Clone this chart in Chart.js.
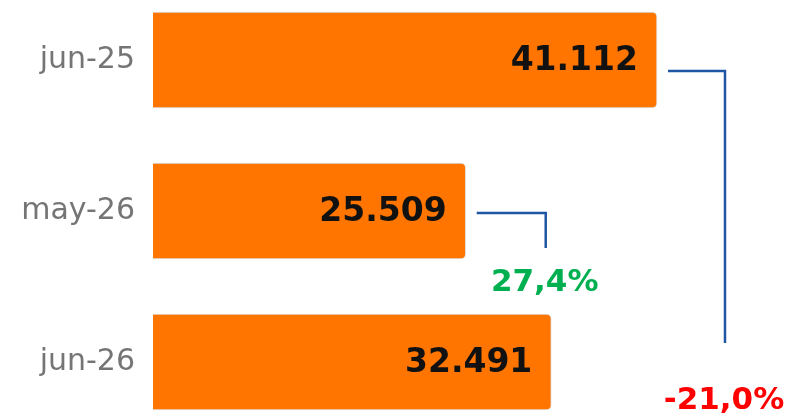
<!DOCTYPE html>
<html>
<head>
<meta charset="utf-8">
<script src="https://cdn.jsdelivr.net/npm/chart.js@4.4.1/dist/chart.umd.min.js"></script>
<style>
  html, body { margin: 0; padding: 0; background: #ffffff; }
  #wrap { width: 792px; height: 416px; }
</style>
</head>
<body>
<div id="wrap"><canvas id="barChart" width="792" height="416"></canvas></div>
<script>
// values
const categories = ["jun-25", "may-26", "jun-26"];
const totals = [41112, 25509, 32491];
const valueLabels = ["41.112", "25.509", "32.491"];
const changeLabels = ["27,4%", "-21,0%"];

const BAR_COLOR = "#FF7500";
const LINE_COLOR = "#1F56A3";

// connector lines, pixel offsets relative to the bars they start from / end near
const connectors = [
    { from: 1, end: 1, text: changeLabels[0], color: "#00B050", run: 80, dy: 2, drop: 37, textDy: 72 },
    { from: 0, end: 2, text: changeLabels[1], color: "#FF0000", run: 68, dy: 11, drop: -19, textDy: 39 }
];

const labelPlugin = {
    id: "labels",
    afterDatasetsDraw(chart) {
        const ctx = chart.ctx;
        const bars = chart.getDatasetMeta(0).data;
        ctx.save();
        ctx.font = "bold 33px 'DejaVu Sans'";
        ctx.fillStyle = "#111111";
        ctx.textAlign = "right";
        ctx.textBaseline = "middle";
        bars.forEach((bar, i) => {
            ctx.fillText(valueLabels[i], bar.x - 19, bar.y + 1);
        });

        connectors.forEach(c => {
            const a = bars[c.from];
            const b = bars[c.end];
            const x0 = a.x + 11;
            const y0 = a.y + c.dy;
            const x1 = a.x + c.run;
            const y1 = b.y + c.drop;
            ctx.strokeStyle = LINE_COLOR;
            ctx.lineWidth = 2.5;
            ctx.beginPath();
            ctx.moveTo(x0, y0);
            ctx.lineTo(x1, y0);
            ctx.lineTo(x1, y1);
            ctx.stroke();

            ctx.font = "bold 31px 'DejaVu Sans'";
            ctx.fillStyle = c.color;
            ctx.textAlign = "center";
            ctx.fillText(c.text, x1 - 1, b.y + c.textDy);
        });
        ctx.restore();
    }
};

const ctx = document.getElementById("barChart").getContext("2d");

new Chart(ctx, {
    type: "bar",
    data: {
        labels: categories,
        datasets: [{
            data: totals,
            backgroundColor: BAR_COLOR,
            borderColor: "rgba(0, 0, 0, 0.12)",
            borderWidth: 1,
            borderRadius: 5,
            borderSkipped: "start",
            barThickness: 96,
            clip: false
        }]
    },
    options: {
        indexAxis: "y",
        responsive: false,
        animation: false,
        layout: {
            padding: { top: 60, bottom: 54, left: 0, right: 0 }
        },
        plugins: {
            legend: { display: false },
            tooltip: { enabled: false }
        },
        scales: {
            x: {
                display: false,
                min: 0,
                max: 52125
            },
            y: {
                offset: false,
                grid: { display: false },
                border: { display: false },
                ticks: {
                    color: "#757575",
                    padding: 10,
                    font: { family: "'DejaVu Sans'", size: 30 }
                },
                afterFit(scale) {
                    scale.width = 153;
                }
            }
        }
    },
    plugins: [labelPlugin]
});
</script>
</body>
</html>
